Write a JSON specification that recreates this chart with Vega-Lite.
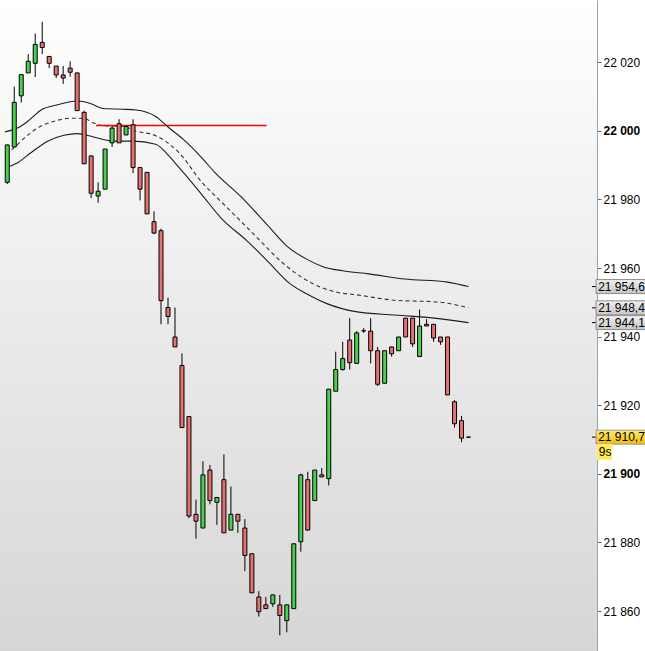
{
  "$schema": "https://vega.github.io/schema/vega-lite/v6.json",
  "width": 597,
  "height": 651,
  "autosize": {"type": "none"},
  "padding": {"left": 0, "top": 0, "right": 48, "bottom": 0},
  "background": "#ffffff",
  "config": {
    "view": {"stroke": null, "fill": {"gradient": "linear", "x1": 0, "y1": 0, "x2": 0, "y2": 1, "stops": [{"offset": 0, "color": "#ffffff"}, {"offset": 1, "color": "#d6d6d6"}]}},
    "font": "Liberation Sans"
  },
  "datasets": {
    "candles": [
      {"i":0,"o":21985.0,"h":21996.0,"l":21984.5,"c":21995.9},
      {"i":1,"o":21995.3,"h":22012.9,"l":21995.3,"c":22008.3},
      {"i":2,"o":22010.2,"h":22016.4,"l":22008.3,"c":22016.4},
      {"i":3,"o":22016.9,"h":22022.4,"l":22016.9,"c":22020.3},
      {"i":4,"o":22019.7,"h":22028.4,"l":22015.7,"c":22025.2},
      {"i":5,"o":22025.8,"h":22031.8,"l":22022.4,"c":22024.3},
      {"i":6,"o":22021.7,"h":22021.7,"l":22018.3,"c":22019.7},
      {"i":7,"o":22018.9,"h":22018.9,"l":22015.4,"c":22016.3},
      {"i":8,"o":22016.3,"h":22018.9,"l":22013.7,"c":22015.4},
      {"i":9,"o":22018.3,"h":22020.3,"l":22015.8,"c":22017.1},
      {"i":10,"o":22016.9,"h":22016.9,"l":22005.9,"c":22005.9},
      {"i":11,"o":22005.4,"h":22005.9,"l":21990.4,"c":21990.4},
      {"i":12,"o":21992.7,"h":21992.7,"l":21980.4,"c":21981.8},
      {"i":13,"o":21981.0,"h":21985.0,"l":21979.0,"c":21982.4},
      {"i":14,"o":21983.0,"h":21994.7,"l":21983.0,"c":21994.7},
      {"i":15,"o":21996.5,"h":22001.4,"l":21995.3,"c":22000.8},
      {"i":16,"o":22002.1,"h":22003.4,"l":21996.5,"c":21996.5},
      {"i":17,"o":21998.8,"h":22001.3,"l":21998.8,"c":22001.3},
      {"i":18,"o":22001.8,"h":22003.4,"l":21987.7,"c":21989.3},
      {"i":19,"o":21989.3,"h":21989.3,"l":21979.7,"c":21983.0},
      {"i":20,"o":21987.9,"h":21987.9,"l":21975.8,"c":21975.8},
      {"i":21,"o":21973.5,"h":21976.5,"l":21969.9,"c":21970.2},
      {"i":22,"o":21970.9,"h":21971.5,"l":21943.6,"c":21950.5},
      {"i":23,"o":21948.5,"h":21951.4,"l":21943.6,"c":21945.9},
      {"i":24,"o":21939.9,"h":21948.5,"l":21937.0,"c":21937.0},
      {"i":25,"o":21931.6,"h":21935.1,"l":21913.5,"c":21913.5},
      {"i":26,"o":21916.7,"h":21916.7,"l":21887.1,"c":21887.7},
      {"i":27,"o":21888.2,"h":21892.5,"l":21881.1,"c":21886.2},
      {"i":28,"o":21884.2,"h":21903.7,"l":21884.2,"c":21899.7},
      {"i":29,"o":21901.1,"h":21902.6,"l":21891.1,"c":21892.2},
      {"i":30,"o":21891.7,"h":21893.1,"l":21885.1,"c":21893.1},
      {"i":31,"o":21898.3,"h":21905.7,"l":21882.8,"c":21882.8},
      {"i":32,"o":21883.6,"h":21896.3,"l":21883.6,"c":21888.2},
      {"i":33,"o":21888.2,"h":21888.2,"l":21882.8,"c":21886.2},
      {"i":34,"o":21884.2,"h":21886.8,"l":21871.6,"c":21876.2},
      {"i":35,"o":21876.7,"h":21876.7,"l":21865.3,"c":21865.3},
      {"i":36,"o":21864.1,"h":21865.8,"l":21858.4,"c":21859.8},
      {"i":37,"o":21861.8,"h":21864.1,"l":21860.7,"c":21860.7},
      {"i":38,"o":21862.1,"h":21864.7,"l":21861.2,"c":21864.7},
      {"i":39,"o":21861.8,"h":21864.7,"l":21852.9,"c":21858.7},
      {"i":40,"o":21857.2,"h":21861.8,"l":21853.8,"c":21861.8},
      {"i":41,"o":21860.7,"h":21879.6,"l":21860.7,"c":21879.6},
      {"i":42,"o":21880.2,"h":21900.0,"l":21877.3,"c":21899.7},
      {"i":43,"o":21898.3,"h":21900.6,"l":21883.6,"c":21883.6},
      {"i":44,"o":21892.2,"h":21901.1,"l":21892.2,"c":21901.1},
      {"i":45,"o":21899.7,"h":21901.7,"l":21899.1,"c":21899.1},
      {"i":46,"o":21898.6,"h":21924.7,"l":21896.6,"c":21924.7},
      {"i":47,"o":21924.1,"h":21935.6,"l":21924.1,"c":21930.4},
      {"i":48,"o":21930.4,"h":21938.5,"l":21930.1,"c":21933.6},
      {"i":49,"o":21939.0,"h":21945.4,"l":21930.4,"c":21932.4},
      {"i":50,"o":21932.2,"h":21941.6,"l":21932.2,"c":21941.1},
      {"i":51,"o":21941.7,"h":21942.5,"l":21941.1,"c":21941.7},
      {"i":52,"o":21941.6,"h":21945.4,"l":21932.2,"c":21935.9},
      {"i":53,"o":21935.9,"h":21937.0,"l":21925.6,"c":21926.1},
      {"i":54,"o":21926.4,"h":21935.9,"l":21926.4,"c":21935.9},
      {"i":55,"o":21937.0,"h":21937.0,"l":21934.2,"c":21935.0},
      {"i":56,"o":21935.9,"h":21939.9,"l":21935.9,"c":21939.9},
      {"i":57,"o":21945.4,"h":21945.4,"l":21939.9,"c":21939.9},
      {"i":58,"o":21945.4,"h":21945.4,"l":21937.0,"c":21937.9},
      {"i":59,"o":21934.2,"h":21947.9,"l":21934.2,"c":21943.1},
      {"i":60,"o":21943.6,"h":21945.1,"l":21943.1,"c":21943.1},
      {"i":61,"o":21943.6,"h":21943.6,"l":21938.5,"c":21939.6},
      {"i":62,"o":21939.9,"h":21939.9,"l":21937.6,"c":21938.5},
      {"i":63,"o":21939.9,"h":21939.9,"l":21923.0,"c":21923.0},
      {"i":64,"o":21921.0,"h":21921.5,"l":21913.5,"c":21914.6},
      {"i":65,"o":21915.5,"h":21916.9,"l":21909.2,"c":21910.4},
      {"i":66,"o":21910.7,"h":21910.7,"l":21910.7,"c":21910.7}
    ],
    "bands": [
      {"band":"upper","i":-0.32,"p":21999.7},{"band":"upper","i":1.55,"p":22000.9},{"band":"upper","i":2.95,"p":22002.8},{"band":"upper","i":4.84,"p":22006.1},{"band":"upper","i":7.18,"p":22007.6},{"band":"upper","i":9.99,"p":22008.7},{"band":"upper","i":11.87,"p":22008.0},{"band":"upper","i":13.75,"p":22006.5},{"band":"upper","i":16.56,"p":22006.3},{"band":"upper","i":18.43,"p":22006.1},{"band":"upper","i":21.24,"p":22004.2},{"band":"upper","i":23.13,"p":22000.9},{"band":"upper","i":25.2,"p":21997.5},{"band":"upper","i":27.81,"p":21992.2},{"band":"upper","i":29.69,"p":21987.9},{"band":"upper","i":33.44,"p":21980.8},{"band":"upper","i":37.2,"p":21972.6},{"band":"upper","i":40.01,"p":21966.4},{"band":"upper","i":42.83,"p":21962.6},{"band":"upper","i":45.16,"p":21960.4},{"band":"upper","i":47.97,"p":21959.2},{"band":"upper","i":51.73,"p":21958.3},{"band":"upper","i":56.89,"p":21956.8},{"band":"upper","i":63.0,"p":21955.9},{"band":"upper","i":66,"p":21954.6},
      {"band":"mid","i":-0.32,"p":21993.7},{"band":"mid","i":0.62,"p":21994.6},{"band":"mid","i":2.49,"p":21998.0},{"band":"mid","i":4.36,"p":22000.9},{"band":"mid","i":6.71,"p":22002.8},{"band":"mid","i":9.06,"p":22003.7},{"band":"mid","i":10.93,"p":22003.7},{"band":"mid","i":12.34,"p":22002.3},{"band":"mid","i":13.75,"p":22001.5},{"band":"mid","i":16.56,"p":22001.3},{"band":"mid","i":18.43,"p":21999.9},{"band":"mid","i":21.24,"p":21998.6},{"band":"mid","i":24.54,"p":21993.7},{"band":"mid","i":27.81,"p":21985.1},{"band":"mid","i":30.63,"p":21979.3},{"band":"mid","i":33.44,"p":21973.6},{"band":"mid","i":36.26,"p":21967.8},{"band":"mid","i":39.07,"p":21962.1},{"band":"mid","i":41.42,"p":21958.3},{"band":"mid","i":43.75,"p":21955.4},{"band":"mid","i":47.05,"p":21953.0},{"band":"mid","i":50.32,"p":21952.1},{"band":"mid","i":55.49,"p":21950.6},{"band":"mid","i":61.58,"p":21950.1},{"band":"mid","i":66,"p":21948.4},
      {"band":"lower","i":-0.32,"p":21989.2},{"band":"lower","i":1.55,"p":21990.8},{"band":"lower","i":3.43,"p":21993.7},{"band":"lower","i":5.77,"p":21997.0},{"band":"lower","i":8.12,"p":21998.7},{"band":"lower","i":9.99,"p":21999.2},{"band":"lower","i":11.87,"p":21998.5},{"band":"lower","i":13.75,"p":21997.5},{"band":"lower","i":15.15,"p":21997.0},{"band":"lower","i":17.96,"p":21997.0},{"band":"lower","i":21.24,"p":21996.1},{"band":"lower","i":23.13,"p":21992.7},{"band":"lower","i":24.54,"p":21989.4},{"band":"lower","i":27.81,"p":21981.5},{"band":"lower","i":30.63,"p":21974.5},{"band":"lower","i":34.38,"p":21967.8},{"band":"lower","i":37.2,"p":21962.1},{"band":"lower","i":40.48,"p":21955.4},{"band":"lower","i":42.83,"p":21952.5},{"band":"lower","i":45.64,"p":21949.7},{"band":"lower","i":49.86,"p":21947.3},{"band":"lower","i":55.49,"p":21946.3},{"band":"lower","i":61.11,"p":21945.4},{"band":"lower","i":66,"p":21944.1}
    ],
    "level": [{"start": 12.7, "end": 37.1, "p": 22001.53}],
    "labels": [
      {"label": "21 954,6", "price": 21954.6, "kind": "band"},
      {"label": "21 948,4", "price": 21948.4, "kind": "band"},
      {"label": "21 944,1", "price": 21944.1, "kind": "band"},
      {"label": "21 910,7", "price": 21910.7, "kind": "last"}
    ],
    "timer": [{"label": "9s", "price": 21910.7}]
  },
  "layer": [
    {
      "data": {"name": "bands"},
      "transform": [{"filter": "datum.band === 'mid'"}],
      "mark": {"type": "line", "interpolate": "monotone", "color": "#333333", "strokeWidth": 1.1, "strokeDash": [4, 3]},
      "encoding": {
        "x": {"field": "i", "type": "quantitative", "scale": {"domain": [-0.324, 83.67], "nice": false, "zero": false}, "axis": null},
        "y": {"field": "p", "type": "quantitative", "scale": {"domain": [21849.8, 22036.7], "nice": false, "zero": false},
          "axis": {"orient": "right", "values": [21860, 21880, 21900, 21920, 21940, 21960, 21980, 22000, 22020], "title": null, "grid": false,
            "domainColor": "#9aa3ab", "domainWidth": 1, "tickColor": "#666666", "tickSize": 4, "labelFont": "Liberation Sans", "labelFontSize": 12,
            "labelColor": "#000000", "labelPadding": 2, "labelOverlap": false, "labelBound": false,
            "labelExpr": "replace(format(datum.value, ','), ',', ' ')",
            "labelFontWeight": {"condition": {"test": "datum.value % 100 === 0", "value": "bold"}, "value": "normal"}}}
      }
    },
    {
      "data": {"name": "level"},
      "mark": {"type": "rule", "stroke": "#ff0000", "strokeWidth": 1.5, "opacity": 1},
      "encoding": {
        "x": {"field": "start", "type": "quantitative"},
        "x2": {"field": "end"},
        "y": {"field": "p", "type": "quantitative"}
      }
    },
    {
      "data": {"name": "bands"},
      "transform": [{"filter": "datum.band !== 'mid'"}],
      "mark": {"type": "line", "interpolate": "monotone", "color": "#1e1e1e", "strokeWidth": 1.1},
      "encoding": {
        "x": {"field": "i", "type": "quantitative"},
        "y": {"field": "p", "type": "quantitative"},
        "detail": {"field": "band"}
      }
    },
    {
      "data": {"name": "candles"},
      "mark": {"type": "rule", "color": "#000000", "strokeWidth": 1},
      "encoding": {
        "x": {"field": "i", "type": "quantitative"},
        "y": {"field": "l", "type": "quantitative"},
        "y2": {"field": "h"}
      }
    },
    {
      "data": {"name": "candles"},
      "mark": {"type": "bar", "size": 4, "stroke": "#000000", "strokeWidth": 1},
      "encoding": {
        "x": {"field": "i", "type": "quantitative"},
        "y": {"field": "o", "type": "quantitative"},
        "y2": {"field": "c"},
        "fill": {"condition": {"test": "datum.c >= datum.o", "value": "#4ccf4c"}, "value": "#e77070"}
      }
    },
    {
      "data": {"name": "labels"},
      "mark": {"type": "rule", "color": "#000000", "strokeWidth": 1},
      "encoding": {
        "x": {"datum": 83.67, "type": "quantitative"},
        "x2": {"datum": 84.25},
        "y": {"field": "price", "type": "quantitative"}
      }
    },
    {
      "data": {"name": "labels"},
      "mark": {"type": "bar", "size": 14, "strokeWidth": 1, "stroke": "#8c8c8c",
        "fill": {"gradient": "linear", "x1": 0, "y1": 0, "x2": 0, "y2": 1, "stops": [{"offset": 0, "color": "#efefef"}, {"offset": 1, "color": "#c6c6c6"}]}},
      "transform": [{"filter": "datum.kind === 'band'"}],
      "encoding": {
        "x": {"datum": 84.25, "type": "quantitative"},
        "x2": {"datum": 92},
        "y": {"field": "price", "type": "quantitative"},
        "yOffset": {"condition": {"test": "datum.label === '21 948,4'", "value": -3}, "value": 0}
      }
    },
    {
      "data": {"name": "labels"},
      "mark": {"type": "bar", "size": 14, "strokeWidth": 1, "stroke": "#9a9a9a",
        "fill": {"gradient": "linear", "x1": 0, "y1": 0, "x2": 0, "y2": 1, "stops": [{"offset": 0, "color": "#ffe873"}, {"offset": 1, "color": "#f2c000"}]}},
      "transform": [{"filter": "datum.kind === 'last'"}],
      "encoding": {
        "x": {"datum": 84.25, "type": "quantitative"},
        "x2": {"datum": 92},
        "y": {"field": "price", "type": "quantitative"}
      }
    },
    {
      "data": {"name": "timer"},
      "mark": {"type": "bar", "size": 15, "strokeWidth": 1, "stroke": "#fff0a0", "fill": "#ffe94f"},
      "encoding": {
        "x": {"datum": 84.4, "type": "quantitative"},
        "x2": {"datum": 86.5},
        "y": {"field": "price", "type": "quantitative"},
        "yOffset": {"value": 15}
      }
    },
    {
      "data": {"name": "labels"},
      "mark": {"type": "text", "align": "left", "baseline": "middle", "font": "Liberation Sans", "fontSize": 12, "color": "#000000"},
      "encoding": {
        "x": {"datum": 84.55, "type": "quantitative"},
        "y": {"field": "price", "type": "quantitative"},
        "yOffset": {"condition": {"test": "datum.label === '21 948,4'", "value": -3}, "value": 0},
        "text": {"field": "label"}
      }
    },
    {
      "data": {"name": "timer"},
      "mark": {"type": "text", "align": "left", "baseline": "middle", "font": "Liberation Sans", "fontSize": 12, "color": "#000000"},
      "encoding": {
        "x": {"datum": 84.65, "type": "quantitative"},
        "y": {"field": "price", "type": "quantitative"},
        "yOffset": {"value": 15},
        "text": {"field": "label"}
      }
    }
  ]
}
